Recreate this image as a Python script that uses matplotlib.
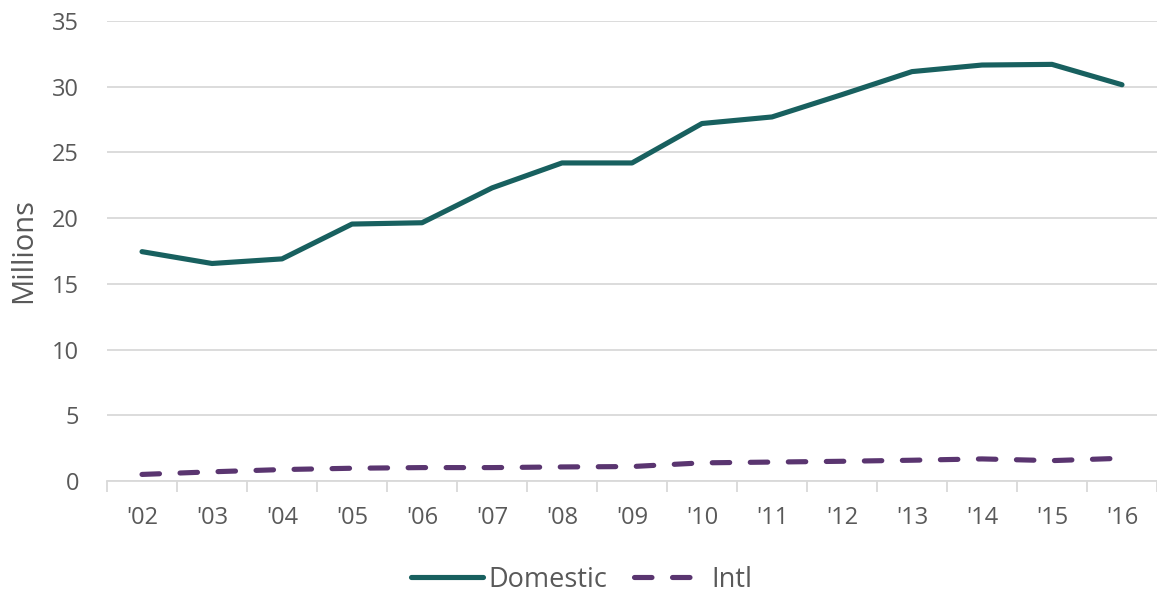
import numpy as np
import matplotlib.pyplot as plt
from matplotlib.ticker import FixedLocator

plt.rcParams['font.family'] = ['Open Sans', 'DejaVu Sans']

years = ["'02", "'03", "'04", "'05", "'06", "'07", "'08", "'09",
         "'10", "'11", "'12", "'13", "'14", "'15", "'16"]
domestic = [17.45, 16.55, 16.9, 19.55, 19.65, 22.3, 24.2, 24.2,
            27.2, 27.7, 29.4, 31.15, 31.65, 31.7, 30.15]
intl = [0.5, 0.7, 0.87, 0.97, 1.02, 1.02, 1.07, 1.1,
        1.38, 1.44, 1.5, 1.58, 1.68, 1.55, 1.73]

teal = '#18605f'
purple = '#5a3570'
text_gray = '#595959'
grid_gray = '#d9d9d9'

fig = plt.figure(figsize=(11.57, 5.95), dpi=100)
ax = fig.add_axes([0.0925, 0.1916, 0.9075, 0.7731])

x = np.arange(len(years))
ax.plot(x, domestic, color=teal, lw=3.7, solid_capstyle='round',
        solid_joinstyle='round', label='Domestic')
ax.plot(x, intl, color=purple, lw=3.7, dashes=(3.4, 4.0),
        dash_capstyle='round', label='Intl')

ax.set_xlim(-0.5, len(years) - 0.5)
ax.set_ylim(0, 35)
ax.set_yticks(range(0, 36, 5))
ax.set_xticks(x)
ax.set_xticklabels(years)
ax.xaxis.set_minor_locator(FixedLocator(np.arange(-0.5, len(years), 1.0)))

ax.grid(axis='y', color=grid_gray, lw=1.3)
ax.set_axisbelow(True)
for side in ['top', 'right', 'left']:
    ax.spines[side].set_visible(False)
ax.spines['bottom'].set_color(grid_gray)
ax.spines['bottom'].set_linewidth(1.3)

ax.tick_params(axis='y', length=0, pad=20, labelsize=17, labelcolor=text_gray)
ax.tick_params(axis='x', which='major', length=0, pad=18, labelsize=17,
               labelcolor=text_gray)
ax.tick_params(axis='x', which='minor', length=8, width=1.3, color=grid_gray)

ax.set_ylabel('Millions', fontsize=21, color=text_gray)
ax.yaxis.set_label_coords(-0.066, 0.5)

leg = fig.legend(loc='center', bbox_to_anchor=(0.5026, 0.026), ncol=2,
                 frameon=False, fontsize=19.5, handlelength=2.66,
                 handletextpad=0.2, columnspacing=1.0)
for t in leg.get_texts():
    t.set_color(text_gray)

fig.savefig('out.png', dpi=100)
